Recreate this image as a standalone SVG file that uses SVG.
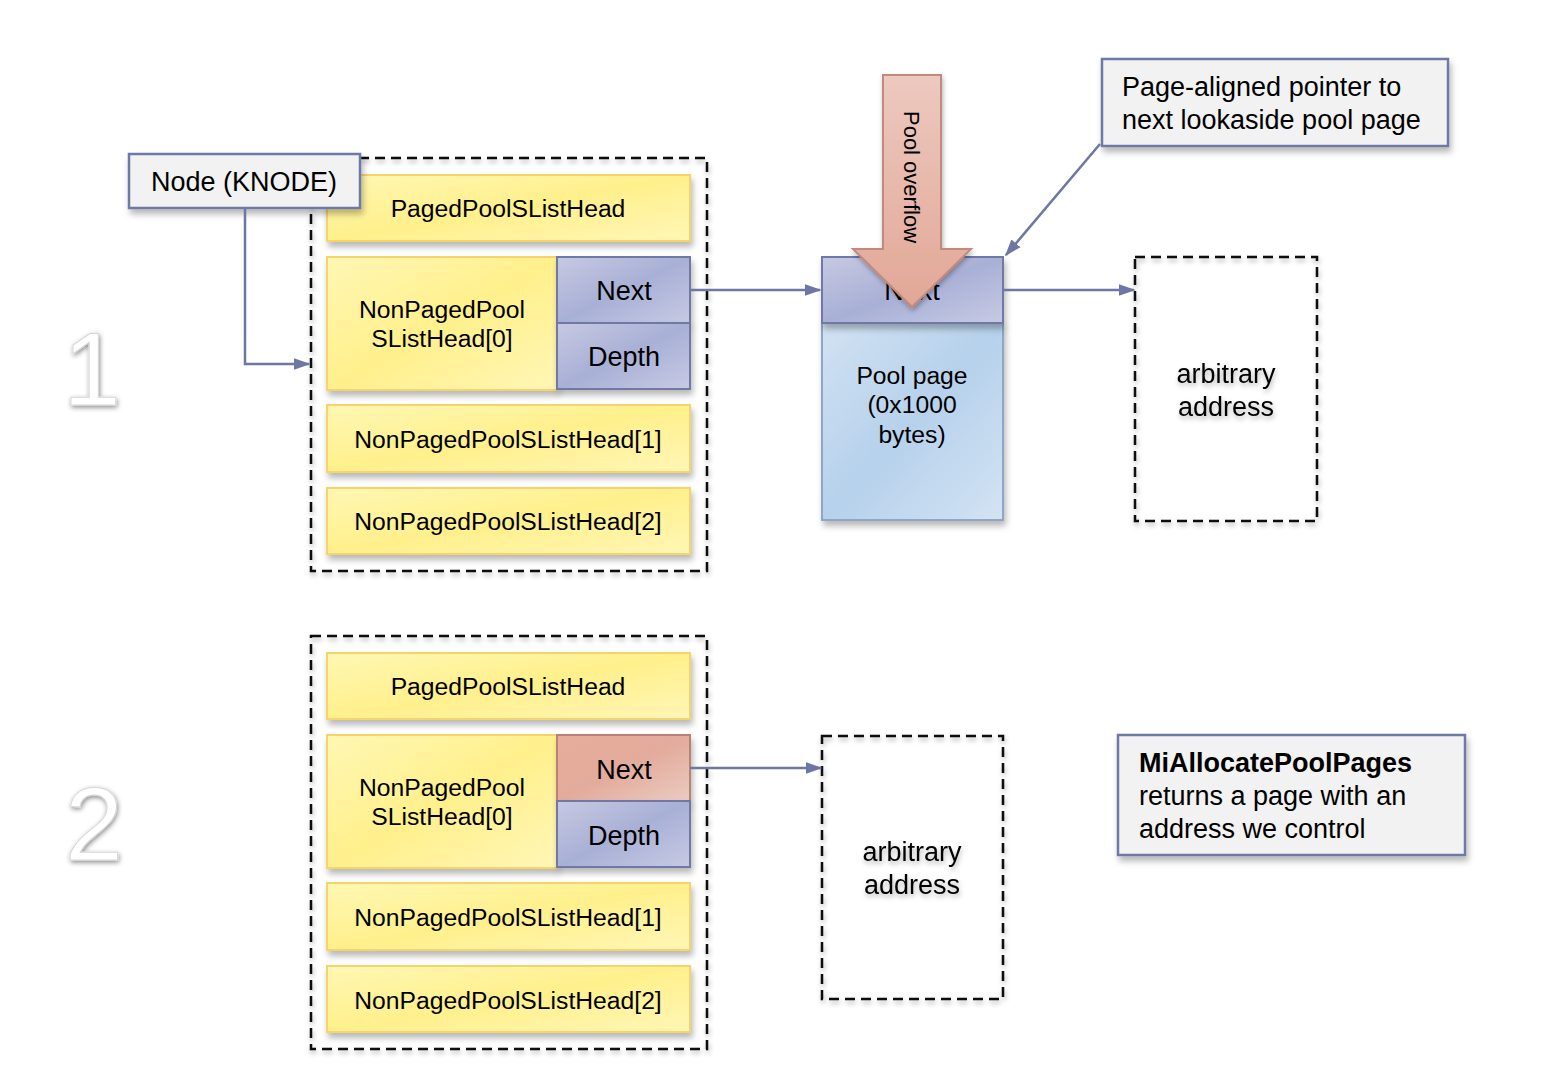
<svg xmlns="http://www.w3.org/2000/svg" width="1565" height="1078" viewBox="0 0 1565 1078">
<defs>
<linearGradient id="gY" x1="0" y1="0" x2="1" y2="1">
<stop offset="0" stop-color="#fff7b4"/><stop offset="0.5" stop-color="#fff08c"/><stop offset="1" stop-color="#fff6b6"/>
</linearGradient>
<linearGradient id="gB" x1="0" y1="0" x2="1" y2="1">
<stop offset="0" stop-color="#c6c9e2"/><stop offset="0.5" stop-color="#a9b0d6"/><stop offset="1" stop-color="#c6cae4"/>
</linearGradient>
<linearGradient id="gR" x1="0" y1="0" x2="1" y2="1">
<stop offset="0" stop-color="#e7ac9c"/><stop offset="0.5" stop-color="#e3ab9b"/><stop offset="1" stop-color="#eccbc1"/>
</linearGradient>
<linearGradient id="gP" x1="0" y1="0" x2="1" y2="1">
<stop offset="0" stop-color="#d2e2f2"/><stop offset="0.5" stop-color="#b6d1ec"/><stop offset="1" stop-color="#d3e3f3"/>
</linearGradient>
<linearGradient id="gA" x1="0" y1="0" x2="0" y2="1">
<stop offset="0" stop-color="#edc9bf"/><stop offset="1" stop-color="#e2a796"/>
</linearGradient>
<filter id="sh" x="-10%" y="-10%" width="130%" height="140%">
<feDropShadow dx="2" dy="5" stdDeviation="3" flood-color="#000" flood-opacity="0.28"/>
</filter>
<filter id="tsh" x="-20%" y="-20%" width="140%" height="160%">
<feDropShadow dx="1" dy="3" stdDeviation="2.5" flood-color="#000" flood-opacity="0.3"/>
</filter>
<filter id="nsh" x="-30%" y="-30%" width="160%" height="160%">
<feDropShadow dx="1" dy="2" stdDeviation="2.5" flood-color="#000" flood-opacity="0.45"/>
</filter>
<marker id="ah2" viewBox="0 0 10 10" refX="9" refY="5" markerWidth="17" markerHeight="17" markerUnits="userSpaceOnUse" orient="auto">
<path d="M0,1.5 L10,5 L0,8.5 z" fill="#6e77a3"/>
</marker>
</defs>
<style>
text{font-family:"Liberation Sans",Arial,sans-serif;fill:#000}
.y{fill:url(#gY);stroke:#f6d46a;stroke-width:2;filter:url(#sh)}
.b{fill:url(#gB);stroke:#7078a6;stroke-width:2;filter:url(#sh)}
.r{fill:url(#gR);stroke:#b98272;stroke-width:2;filter:url(#sh)}
.p{fill:url(#gP);stroke:#8fa6c6;stroke-width:2;filter:url(#sh)}
.c{fill:#f2f2f2;stroke:#7078a6;stroke-width:2.5;filter:url(#sh)}
.d{fill:none;stroke:#111;stroke-width:2.5;stroke-dasharray:10 6;filter:url(#tsh)}
.t24{font-size:24.7px;text-anchor:middle}
.t27{font-size:27px;text-anchor:middle}
.l27{font-size:27px}
.num{font-size:104px;fill:#fff;stroke:#d8d8d8;stroke-width:1;text-anchor:middle;filter:url(#nsh)}
.ln{fill:none;stroke:#6e77a3;stroke-width:2.5}
.ts{filter:url(#tsh)}
</style>
<rect width="1565" height="1078" fill="#fff"/>

<g id="label-1"><text class="num" x="92" y="405">1</text></g>
<g id="label-2"><text class="num" x="94" y="860">2</text></g>

<g id="container-1"><rect class="d" x="311" y="158" width="396" height="413"/></g>
<g id="container-2"><rect class="d" x="311" y="636" width="396" height="413"/></g>

<g id="paged-1"><rect class="y" x="327" y="175" width="363" height="66"/><text class="t24" x="508" y="217">PagedPoolSListHead</text></g>
<g id="nonpaged0-1"><rect class="y" x="327" y="257" width="230" height="133"/><text class="t24" x="442" y="318">NonPagedPool</text><text class="t24" x="442" y="347">SListHead[0]</text></g>
<g id="next-1"><rect class="b" x="557" y="257" width="133" height="66"/><text class="t27" x="624" y="300">Next</text></g>
<g id="depth-1"><rect class="b" x="557" y="323" width="133" height="66"/><text class="t27" x="624" y="366">Depth</text></g>
<g id="nonpaged1-1"><rect class="y" x="327" y="405" width="363" height="67"/><text class="t24" x="508" y="448">NonPagedPoolSListHead[1]</text></g>
<g id="nonpaged2-1"><rect class="y" x="327" y="488" width="363" height="66"/><text class="t24" x="508" y="530">NonPagedPoolSListHead[2]</text></g>

<g id="knode"><rect class="c" x="129" y="154" width="231" height="54"/><text class="t27" x="244" y="191">Node (KNODE)</text></g>

<g id="poolpage"><rect class="p" x="822" y="323" width="181" height="197"/><text class="t24" x="912" y="384">Pool page</text><text class="t24" x="912" y="413">(0x1000</text><text class="t24" x="912" y="443">bytes)</text></g>
<g id="poolpage-next"><rect class="b" x="822" y="257" width="181" height="66"/><text class="t27" x="912" y="300">Next</text></g>

<g id="arbitrary-1"><rect class="d" x="1135" y="257" width="182" height="264"/><text class="t27 ts" x="1226" y="383">arbitrary</text><text class="t27 ts" x="1226" y="416">address</text></g>

<g id="callout-page"><rect class="c" x="1102" y="59" width="346" height="87"/><text class="l27" x="1122" y="96">Page-aligned pointer to</text><text class="l27" x="1122" y="129">next lookaside pool page</text></g>

<g id="overflow-arrow"><path d="M883,75 L941,75 L941,249 L971,249 L912,307 L853,249 L883,249 z" fill="url(#gA)" stroke="#c08a7c" stroke-width="2" filter="url(#tsh)"/><text font-size="22" text-anchor="middle" transform="translate(904,177) rotate(90)">Pool overflow</text></g>

<g id="paged-2"><rect class="y" x="327" y="653" width="363" height="66"/><text class="t24" x="508" y="695">PagedPoolSListHead</text></g>
<g id="nonpaged0-2"><rect class="y" x="327" y="735" width="230" height="133"/><text class="t24" x="442" y="796">NonPagedPool</text><text class="t24" x="442" y="825">SListHead[0]</text></g>
<g id="next-2"><rect class="r" x="557" y="735" width="133" height="66"/><text class="t27" x="624" y="779">Next</text></g>
<g id="depth-2"><rect class="b" x="557" y="801" width="133" height="66"/><text class="t27" x="624" y="845">Depth</text></g>
<g id="nonpaged1-2"><rect class="y" x="327" y="883" width="363" height="67"/><text class="t24" x="508" y="926">NonPagedPoolSListHead[1]</text></g>
<g id="nonpaged2-2"><rect class="y" x="327" y="966" width="363" height="66"/><text class="t24" x="508" y="1009">NonPagedPoolSListHead[2]</text></g>

<g id="arbitrary-2"><rect class="d" x="822" y="736" width="181" height="263"/><text class="t27 ts" x="912" y="861">arbitrary</text><text class="t27 ts" x="912" y="894">address</text></g>

<g id="callout-alloc"><rect class="c" x="1118" y="735" width="347" height="120"/><text class="l27" x="1139" y="772" font-weight="bold">MiAllocatePoolPages</text><text class="l27" x="1139" y="805">returns a page with an</text><text class="l27" x="1139" y="838">address we control</text></g>

<g id="connectors">
<path class="ln" d="M245,208 L245,364 L309,364" marker-end="url(#ah2)"/>
<path class="ln" d="M690,290 L820,290" marker-end="url(#ah2)"/>
<path class="ln" d="M1003,290 L1134,290" marker-end="url(#ah2)"/>
<path class="ln" d="M1100,144 L1006,255" marker-end="url(#ah2)"/>
<path class="ln" d="M690,768 L821,768" marker-end="url(#ah2)"/>
</g>
</svg>
